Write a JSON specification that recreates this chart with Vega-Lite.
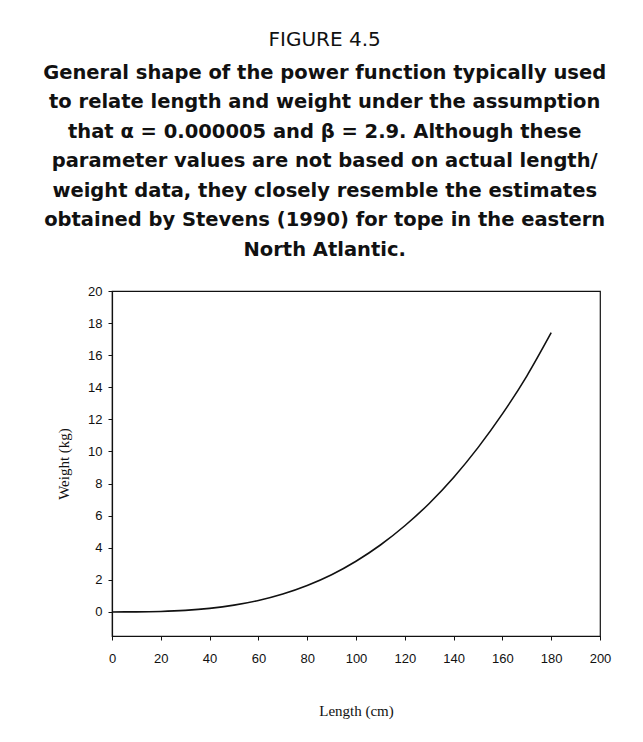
{
  "$schema": "https://vega.github.io/schema/vega-lite/v6.json",
  "autosize": {"type": "none"},
  "padding": {"left": 112, "top": 291, "right": 43, "bottom": 106},
  "width": 488,
  "height": 345,
  "background": "white",
  "title": {
    "text": "FIGURE 4.5",
    "subtitle": [
      "General shape of the power function typically used",
      "to relate length and weight under the assumption",
      "that α = 0.000005 and β = 2.9. Although these",
      "parameter values are not based on actual length/",
      "weight data, they closely resemble the estimates",
      "obtained by Stevens (1990) for tope in the eastern",
      "North Atlantic."
    ],
    "anchor": "middle",
    "frame": "bounds",
    "dx": -9,
    "font": "DejaVu Sans",
    "fontSize": 20,
    "fontWeight": "normal",
    "color": "#111",
    "subtitleFont": "DejaVu Sans",
    "subtitleFontSize": 19.5,
    "subtitleFontWeight": "bold",
    "subtitleColor": "#111",
    "subtitleLineHeight": 29.5,
    "subtitlePadding": 14,
    "offset": 26
  },
  "data": {
    "values": [
      {"length": 0, "weight": 0},
      {"length": 10, "weight": 0.004},
      {"length": 20, "weight": 0.03},
      {"length": 30, "weight": 0.096},
      {"length": 40, "weight": 0.221},
      {"length": 50, "weight": 0.423},
      {"length": 60, "weight": 0.717},
      {"length": 70, "weight": 1.12},
      {"length": 80, "weight": 1.65},
      {"length": 90, "weight": 2.32},
      {"length": 100, "weight": 3.16},
      {"length": 110, "weight": 4.17},
      {"length": 120, "weight": 5.37},
      {"length": 130, "weight": 6.76},
      {"length": 140, "weight": 8.38},
      {"length": 150, "weight": 10.24},
      {"length": 160, "weight": 12.34},
      {"length": 170, "weight": 14.7},
      {"length": 180, "weight": 17.4}
    ]
  },
  "mark": {"type": "line", "color": "#111", "strokeWidth": 1.6, "interpolate": "monotone", "clip": true},
  "encoding": {
    "x": {
      "field": "length",
      "type": "quantitative",
      "scale": {"domain": [0, 200], "nice": false},
      "axis": {
        "title": "Length (cm)",
        "values": [0, 20, 40, 60, 80, 100, 120, 140, 160, 180, 200],
        "grid": false,
        "labelFlush": false,
        "tickSize": 4,
        "labelPadding": 12,
        "titlePadding": 38
      }
    },
    "y": {
      "field": "weight",
      "type": "quantitative",
      "scale": {"domain": [-1.5, 20], "nice": false, "zero": false},
      "axis": {
        "title": "Weight (kg)",
        "values": [0, 2, 4, 6, 8, 10, 12, 14, 16, 18, 20],
        "grid": false,
        "labelFlush": false,
        "tickSize": 4,
        "labelPadding": 6,
        "titlePadding": 16
      }
    }
  },
  "config": {
    "view": {"stroke": "#111", "strokeWidth": 1.2},
    "axis": {
      "domainColor": "#111",
      "domainWidth": 1.2,
      "tickColor": "#111",
      "labelFont": "Liberation Sans",
      "labelFontSize": 13,
      "labelColor": "#111",
      "titleFont": "Liberation Serif",
      "titleFontSize": 15,
      "titleFontWeight": "normal",
      "titleColor": "#111"
    }
  }
}
